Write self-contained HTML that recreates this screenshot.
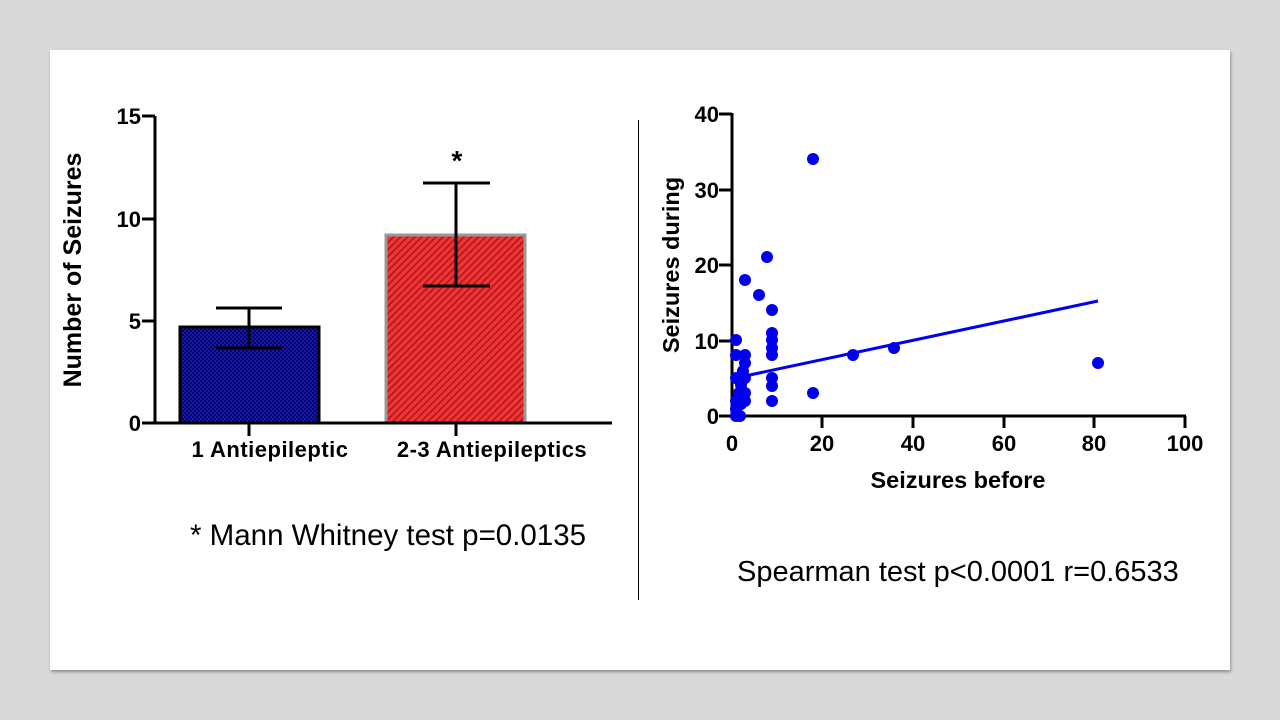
<!DOCTYPE html>
<html><head><style>
body{margin:0;width:1280px;height:720px;background:#d9d9d9;overflow:hidden;font-family:"Liberation Sans",Arial,sans-serif}
.slide{position:absolute;left:50px;top:50px;width:1180px;height:620px;background:#fff;box-shadow:1px 2px 3px rgba(0,0,0,.35)}
</style></head><body>
<div class="slide"></div>
<svg width="1280" height="720" style="position:absolute;left:0;top:0" font-family="Liberation Sans, Arial, sans-serif">
<defs>
<pattern id="chk" width="4" height="4" patternUnits="userSpaceOnUse"><rect width="4" height="4" fill="#1a1aa0"/><rect width="2" height="2" fill="#000070"/><rect x="2" y="2" width="2" height="2" fill="#000070"/></pattern>
<pattern id="hat" width="5" height="5" patternUnits="userSpaceOnUse" patternTransform="rotate(45)"><rect width="5" height="5" fill="#e8383c"/><rect width="1.6" height="5" fill="#c01010"/></pattern>
</defs>
<line x1="638.5" y1="120" x2="638.5" y2="600" stroke="#000" stroke-width="1"/>
<!-- left chart -->
<rect x="180" y="327" width="139" height="96" fill="url(#chk)" stroke="#000" stroke-width="3"/>
<rect x="386" y="235" width="139" height="188" fill="url(#hat)" stroke="#999" stroke-width="3"/>
<g stroke="#000" stroke-width="3" fill="none">
<line x1="155" y1="116" x2="155" y2="424"/>
<line x1="142" y1="116" x2="155" y2="116"/><line x1="142" y1="219" x2="155" y2="219"/><line x1="142" y1="321" x2="155" y2="321"/><line x1="142" y1="423" x2="155" y2="423"/>
<line x1="154" y1="423" x2="612" y2="423"/>
<line x1="249" y1="423" x2="249" y2="436"/><line x1="456" y1="423" x2="456" y2="436"/>
<line x1="249" y1="348" x2="249" y2="308"/><line x1="216" y1="308" x2="282" y2="308"/><line x1="216" y1="348" x2="282" y2="348"/>
<line x1="456" y1="286" x2="456" y2="183"/><line x1="423" y1="183" x2="490" y2="183"/><line x1="423" y1="286" x2="490" y2="286"/>
</g>
<g font-size="22" font-weight="bold" text-anchor="end">
<text x="141" y="124">15</text><text x="141" y="227">10</text><text x="141" y="329">5</text><text x="141" y="431">0</text>
</g>
<text x="457" y="170" font-size="28" font-weight="bold" text-anchor="middle">*</text>
<g font-size="22" font-weight="bold" text-anchor="middle" letter-spacing="0.5">
<text x="270" y="457">1 Antiepileptic</text><text x="492" y="457">2-3 Antiepileptics</text>
</g>
<text transform="translate(81,270) rotate(-90)" font-size="25" font-weight="bold" text-anchor="middle">Number of Seizures</text>
<text x="190" y="545" font-size="29.5">* Mann Whitney test p=0.0135</text>
<!-- right chart -->
<g stroke="#000" stroke-width="3" fill="none">
<line x1="732" y1="113" x2="732" y2="417"/>
<line x1="719" y1="114" x2="732" y2="114"/><line x1="719" y1="190" x2="732" y2="190"/><line x1="719" y1="265" x2="732" y2="265"/><line x1="719" y1="341" x2="732" y2="341"/><line x1="719" y1="416" x2="732" y2="416"/>
<line x1="731" y1="416" x2="1186" y2="416"/>
<line x1="822" y1="416" x2="822" y2="428"/><line x1="913" y1="416" x2="913" y2="428"/><line x1="1004" y1="416" x2="1004" y2="428"/><line x1="1094" y1="416" x2="1094" y2="428"/><line x1="1185" y1="416" x2="1185" y2="428"/>
</g>
<g font-size="22" font-weight="bold" text-anchor="end">
<text x="719" y="122">40</text><text x="719" y="198">30</text><text x="719" y="273">20</text><text x="719" y="349">10</text><text x="719" y="424">0</text>
</g>
<g font-size="22" font-weight="bold" text-anchor="middle">
<text x="732" y="451">0</text><text x="822" y="451">20</text><text x="913" y="451">40</text><text x="1004" y="451">60</text><text x="1094" y="451">80</text><text x="1185" y="451">100</text>
</g>
<text x="958" y="488" font-size="23.5" font-weight="bold" text-anchor="middle">Seizures before</text>
<text transform="translate(679,265) rotate(-90)" font-size="23.5" font-weight="bold" text-anchor="middle">Seizures during</text>
<line x1="745" y1="376" x2="1098" y2="301" stroke="#0000ee" stroke-width="3"/>
<g fill="#0000ee">
<circle cx="736" cy="340" r="6"/><circle cx="736" cy="355" r="6"/><circle cx="736" cy="378" r="6"/><circle cx="736" cy="401" r="6"/><circle cx="736" cy="409" r="6"/><circle cx="736" cy="416" r="6"/><circle cx="740" cy="416" r="6"/><circle cx="739" cy="393" r="6"/><circle cx="741" cy="385" r="6"/><circle cx="741" cy="404" r="6"/>
<circle cx="745" cy="280" r="6"/><circle cx="745" cy="355" r="6"/><circle cx="745" cy="363" r="6"/><circle cx="745" cy="378" r="6"/><circle cx="745" cy="393" r="6"/><circle cx="745" cy="401" r="6"/><circle cx="743" cy="371" r="6"/>
<circle cx="759" cy="295" r="6"/><circle cx="767" cy="257" r="6"/>
<circle cx="772" cy="310" r="6"/><circle cx="772" cy="333" r="6"/><circle cx="772" cy="340" r="6"/><circle cx="772" cy="348" r="6"/><circle cx="772" cy="355" r="6"/><circle cx="772" cy="378" r="6"/><circle cx="772" cy="386" r="6"/><circle cx="772" cy="401" r="6"/>
<circle cx="813" cy="159" r="6"/><circle cx="813" cy="393" r="6"/><circle cx="853" cy="355" r="6"/><circle cx="894" cy="348" r="6"/><circle cx="1098" cy="363" r="6"/>
</g>
<text x="737" y="581" font-size="29">Spearman test p&lt;0.0001 r=0.6533</text>
</svg>
</body></html>
